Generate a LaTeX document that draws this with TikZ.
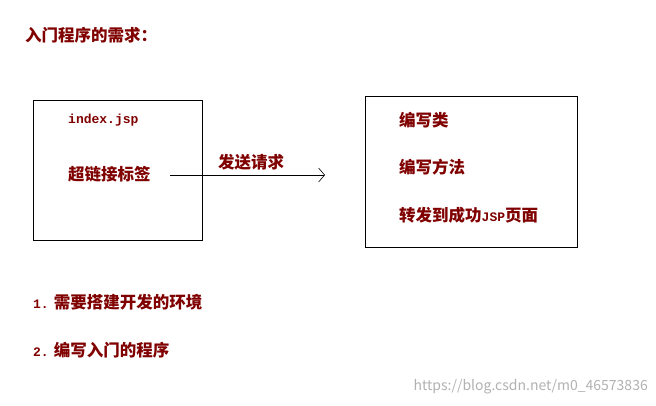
\documentclass[tikz,border=0pt]{standalone}
\usepackage{fontspec}
\setmainfont{Noto Sans CJK SC}
\newfontfamily\monof{Liberation Mono}
\usetikzlibrary{arrows.meta}
\definecolor{dred}{HTML}{800000}
\begin{document}
\begin{tikzpicture}[x=1pt,y=-1pt,
  txt/.style={text=dred,font=\fontsize{16.5}{16.5}\selectfont\bfseries,anchor=west,inner sep=0pt},
  box/.style={draw,line width=0.8pt}]
\useasboundingbox (0,0) rectangle (656,405);
\fill[white] (0,0) rectangle (656,405);
\node[txt] (title) at (25,35) {入门程序的需求：};
\node[box,minimum width=169pt,minimum height=140pt,anchor=north west] (lb) at (33,100) {};
\node[box,minimum width=212pt,minimum height=151pt,anchor=north west] (rb) at (365,96) {};
\node[txt,font=\monof\bfseries\fontsize{13}{13}\selectfont] (idx) at (68,120) {index.jsp};
\node[txt] (link) at (68,174) {超链接标签};
\coordinate (a1) at (170,175);
\coordinate (a2) at (325,175);
\draw[-{Straight Barb[length=6pt,width=14pt]},line width=0.6pt] (a1) -- (a2);
\node[txt] (req) at (218,162) {发送请求};
\node[txt] (r1) at (399,120) {编写类};
\node[txt] (r2) at (399,167) {编写方法};
\node[txt] (r3) at (399,215) {转发到成功{\monof\fontsize{13}{13}\selectfont JSP}页面};
\node[txt] (l1) at (33,302) {{\monof\fontsize{13}{13}\selectfont 1.} 需要搭建开发的环境};
\node[txt] (l2) at (33,350) {{\monof\fontsize{13}{13}\selectfont 2.} 编写入门的程序};
\node[anchor=east,text=black!30,font=\fontsize{14}{14}\selectfont,inner sep=0pt] (wm) at (648,387) {https://blog.csdn.net/m0\_46573836};
\end{tikzpicture}
\end{document}
